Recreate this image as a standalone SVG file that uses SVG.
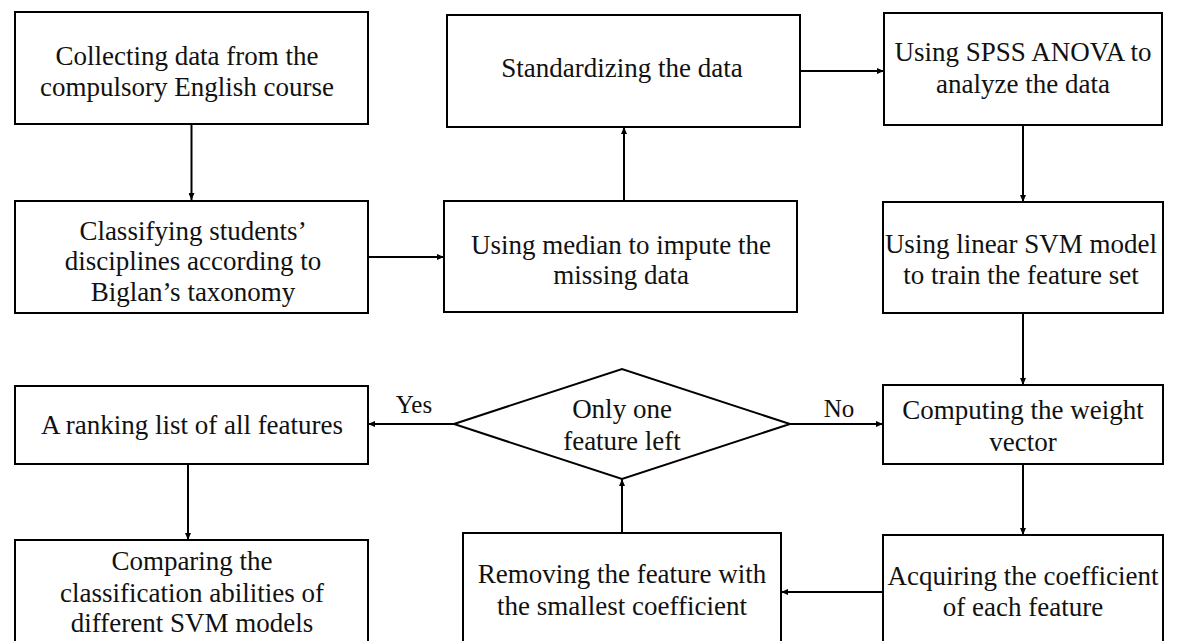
<svg xmlns="http://www.w3.org/2000/svg" width="1178" height="641" viewBox="0 0 1178 641">
<defs>
<style>
.box{fill:#fff;stroke:#000;stroke-width:2}
.t{font-family:"Liberation Serif","Times New Roman",serif;font-size:27px;fill:#111;text-anchor:middle}
.lbl{font-family:"Liberation Serif","Times New Roman",serif;font-size:25px;fill:#111;text-anchor:middle}
.c{fill:none;stroke:#000;stroke-width:2;marker-end:url(#ah)}
</style>
<marker id="ah" markerUnits="userSpaceOnUse" markerWidth="7" markerHeight="6" refX="7" refY="3" orient="auto">
<path d="M0,0 L7,3 L0,6 z" fill="#000"/>
</marker>
</defs>
<rect width="1178" height="641" fill="#fff"/>
<g id="connectors">
<line class="c" x1="191.5" y1="124" x2="191.5" y2="200"/>
<line class="c" x1="368" y1="257" x2="444" y2="257"/>
<line class="c" x1="624" y1="201" x2="624" y2="127"/>
<line class="c" x1="800" y1="71" x2="884" y2="71"/>
<line class="c" x1="1023" y1="125" x2="1023" y2="202"/>
<line class="c" x1="1023" y1="313" x2="1023" y2="385"/>
<line class="c" x1="790" y1="424" x2="883" y2="424"/>
<line class="c" x1="1023" y1="464" x2="1023" y2="535"/>
<line class="c" x1="883" y1="592" x2="781" y2="592"/>
<line class="c" x1="622" y1="533" x2="622" y2="479"/>
<line class="c" x1="454" y1="424" x2="368" y2="424"/>
<line class="c" x1="188" y1="464" x2="188" y2="540"/>
<text class="lbl" x="414" y="413">Yes</text>
<text class="lbl" x="839" y="417">No</text>
</g>
<g id="n1"><rect class="box" x="15" y="12" width="353" height="112"/>
<text class="t" x="187" y="65">Collecting data from the</text>
<text class="t" x="187" y="96">compulsory English course</text></g>
<g id="n2"><rect class="box" x="447" y="15" width="353" height="112"/>
<text class="t" x="622" y="77">Standardizing the data</text></g>
<g id="n3"><rect class="box" x="884" y="13" width="278" height="112"/>
<text class="t" x="1023" y="61">Using SPSS ANOVA to</text>
<text class="t" x="1023" y="93">analyze the data</text></g>
<g id="n4"><rect class="box" x="15" y="201" width="353" height="112"/>
<text class="t" x="193" y="240">Classifying students’</text>
<text class="t" x="193" y="270">disciplines according to</text>
<text class="t" x="193" y="301">Biglan’s taxonomy</text></g>
<g id="n5"><rect class="box" x="444" y="201" width="353" height="111"/>
<text class="t" x="621" y="254">Using median to impute the</text>
<text class="t" x="621" y="284">missing data</text></g>
<g id="n6"><rect class="box" x="883" y="202" width="280" height="111"/>
<text class="t" x="1021" y="253">Using linear SVM model</text>
<text class="t" x="1021" y="284">to train the feature set</text></g>
<g id="n7"><rect class="box" x="15" y="386" width="353" height="78"/>
<text class="t" x="192" y="434">A ranking list of all features</text></g>
<g id="n8"><polygon class="box" points="454,424 622,369 790,424 622,479"/>
<text class="t" x="622" y="418">Only one</text>
<text class="t" x="622" y="450">feature left</text></g>
<g id="n9"><rect class="box" x="883" y="385" width="280" height="79"/>
<text class="t" x="1023" y="419">Computing the weight</text>
<text class="t" x="1023" y="451">vector</text></g>
<g id="n10"><rect class="box" x="15" y="540" width="353" height="110"/>
<text class="t" x="192" y="570">Comparing the</text>
<text class="t" x="192" y="602">classification abilities of</text>
<text class="t" x="192" y="632">different SVM models</text></g>
<g id="n11"><rect class="box" x="463" y="533" width="318" height="117"/>
<text class="t" x="622" y="583">Removing the feature with</text>
<text class="t" x="622" y="615">the smallest coefficient</text></g>
<g id="n12"><rect class="box" x="883" y="535" width="280" height="115"/>
<text class="t" x="1023" y="585">Acquiring the coefficient</text>
<text class="t" x="1023" y="616">of each feature</text></g>
</svg>
